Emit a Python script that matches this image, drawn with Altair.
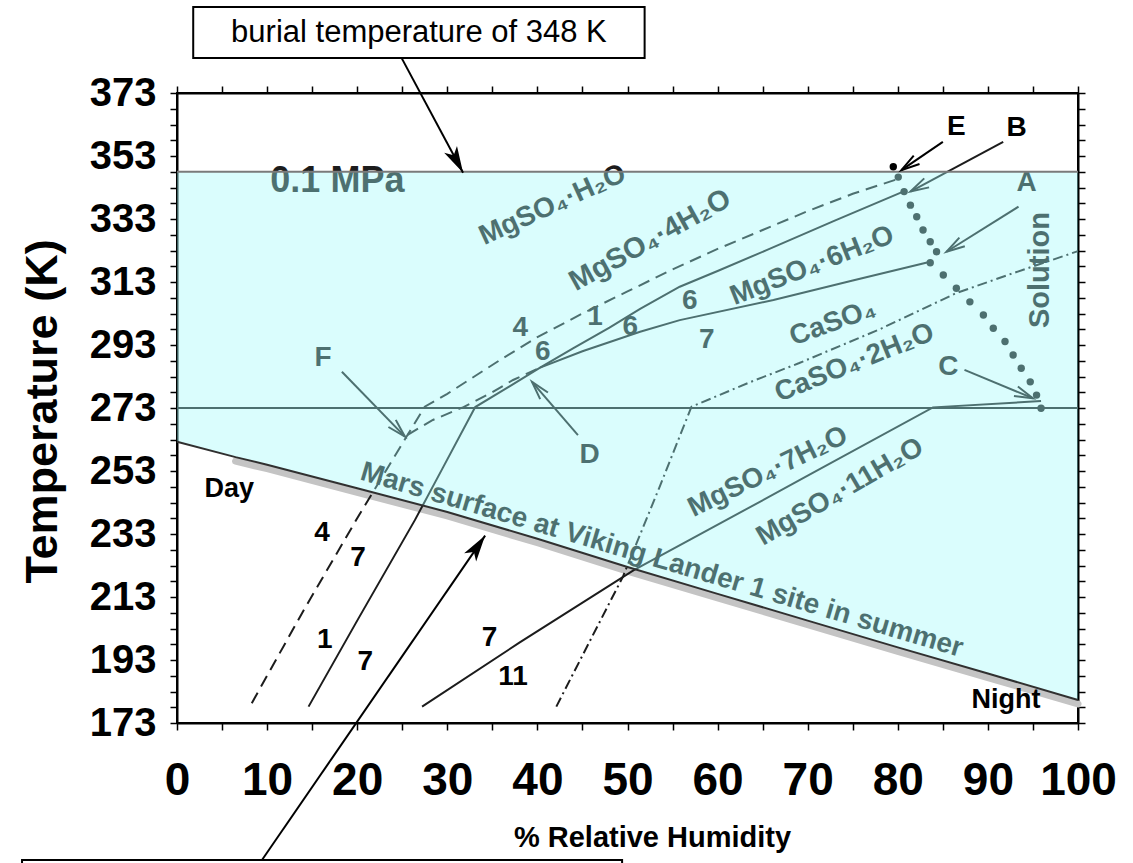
import math
import altair as alt
import pandas as pd

W, H = 901, 630
XD = [0, 100]
YD = [173, 373]
SX = W / (XD[1] - XD[0])
SY = H / (YD[1] - YD[0])

FONT = "Liberation Sans"
INK = "#1c1c1c"

# ---------------- data ----------------
# Mars surface at Viking Lander 1 site in summer
surf_rh = [0, 6.5, 10, 20, 30, 40, 50, 60, 70, 80, 90, 100]
surf_t = [262.3, 257.4, 255.0, 247.5, 240.0, 231.5, 222.5, 214.0, 205.5, 197.0, 188.7, 180.3]

# dashed boundary 4/7 then 4/1
d41_rh = [8.3, 14, 20, 25.6, 27.5, 30, 33, 36, 40, 45, 50, 55, 60, 65, 70, 75, 80]
d41_t = [179.3, 208.5, 238, 264.5, 273.4, 277.5, 283, 288.5, 295.5, 303, 310, 317, 323.5, 329.5, 335.5, 341, 345.7]
# dashed boundary 4/6 (F to D)
d46_rh = [25.6, 28.4, 31.8, 35, 37.3, 40.3]
d46_t = [264.5, 269.2, 273.3, 278, 281.9, 285.8]
# solid boundary 1/7 then 1/6
s16_rh = [14.6, 20, 26.4, 29.5, 33.1, 37, 40.3, 44, 48, 51.4, 55.8, 60, 65.5, 73, 80.6]
s16_t = [178.2, 205.5, 237.4, 254, 273.3, 280, 285.8, 292, 298.5, 304.5, 311.5, 316.5, 323.2, 332.5, 341.7]
# solid boundary 6/7
s67_rh = [40.3, 45, 51.4, 55.8, 66.2, 75, 83.6]
s67_t = [285.8, 291, 297.2, 300.9, 307.3, 313.5, 319.4]
# solid boundary 7/11
s711_rh = [27.2, 38, 50.7, 56.9, 70, 83.9, 95.9]
s711_t = [178.2, 198.5, 221.5, 231.1, 251.5, 273.2, 275.2]
# dash-dot boundary CaSO4 / CaSO4.2H2O
ca_rh = [42.1, 46, 49.5, 53.5, 57.1, 63.6, 69, 78, 86.5, 93, 100]
ca_t = [178.2, 200, 219.5, 247.5, 273.4, 281.2, 287.2, 298, 309.5, 316, 322.8]

# dotted solution boundary (E .. C)
dot_rh = [80.05, 80.7, 81.4, 82.1, 82.8, 83.6, 84.3, 83.6, 85.05, 86.5, 88.0, 89.5, 90.6, 91.9, 92.8, 93.7, 94.7, 95.4, 95.9]
dot_t = [346.3, 341.7, 337.4, 333.7, 329.5, 325.8, 322.6, 319.1, 315.2, 311.0, 306.7, 302.5, 298.3, 294.1, 289.8, 285.6, 281.3, 277.1, 272.9]
e_dot = ([79.5], [349.6])

# labels inside the cyan field (drawn under the tint)
in_lab = ["0.1 MPa", "MgSO\u2084\u00b7H\u2082O", "MgSO\u2084\u00b74H\u2082O", "MgSO\u2084\u00b76H\u2082O", "CaSO\u2084",
          "CaSO\u2084\u00b72H\u2082O", "MgSO\u2084\u00b77H\u2082O", "MgSO\u2084\u00b711H\u2082O", "Solution",
          "Mars surface at Viking Lander 1 site in summer"]
in_rh = [17.8, 41.7, 52.5, 70.5, 72.8, 75.2, 65.6, 73.6, 95.8, 53.8]
in_t = [345.1, 337.4, 326.3, 318.1, 300.0, 287.3, 252.7, 246.3, 316.8, 224.6]
in_ang = [0, 335.5, 331, 338.5, 340, 338, 334, 330, 270, 16.5]
in_size = [36, 28, 29, 28, 28, 28, 28, 28, 29, 28]

num_lab = ["4", "1", "6", "6", "6", "7", "A", "C", "F", "D"]
num_rh = [38.1, 46.4, 40.6, 50.3, 56.9, 58.8, 94.3, 85.6, 16.2, 45.8]
num_t = [298.4, 301.9, 290.8, 298.7, 307.0, 294.6, 344.3, 286.1, 288.8, 258.1]

out_lab = ["4", "7", "1", "7", "7", "11", "Day", "Night", "E", "B"]
out_rh = [16.1, 20.1, 16.4, 20.9, 34.7, 37.3, 5.8, 92.0, 86.5, 93.2]
out_t = [233.3, 225.4, 199.3, 192.4, 200.0, 187.6, 247.3, 180.3, 362.3, 361.8]

# arrows: start -> tip
arr_under = {  # tinted where inside the field
    "B": (91.7, 357.5, 81.4, 341.7),
    "A": (93.4, 336.9, 85.4, 322.6),
    "C": (87.4, 285.1, 95.0, 276.1),
    "F": (18.3, 284.5, 25.3, 263.9),
    "D": (44.5, 264.4, 39.4, 281.3),
}
arr_top_open = {"E": (85.0, 357.5, 80.4, 348.5)}
arr_top_filled = {
    "burial": (24.95, 384.0, 31.75, 347.7),
    "mars": (9.43, 129.5, 34.2, 232.5),
}

# annotation boxes (RH, T corners)
box_rh = [1.8, -17.2]
box_rh2 = [51.9, 49.4]
box_t = [400.3, 129.5]
box_t2 = [384.1, 110.0]
box_text = "burial temperature of 348 K"
box_text_pos = (26.85, 392.0)

# ---------------- helpers ----------------
xs = alt.Scale(domain=XD, nice=False, zero=False)
ys = alt.Scale(domain=YD, nice=False, zero=False)


def X(f="rh"):
    return alt.X(f"{f}:Q", scale=xs, axis=None)


def Y(f="t"):
    return alt.Y(f"{f}:Q", scale=ys, axis=None)


def line_df(rh, t):
    return pd.DataFrame({"rh": rh, "t": t, "i": range(len(rh))})


def line_layer(rh, t, dash=None, color=INK, width=2.0):
    kw = dict(color=color, strokeWidth=width, clip=False)
    if dash:
        kw["strokeDash"] = dash
    return alt.Chart(line_df(rh, t)).mark_line(**kw).encode(x=X(), y=Y(), order="i:Q")


def head_angle(x1, y1, x2, y2):
    dx = (x2 - x1) * SX
    dy = -(y2 - y1) * SY
    return math.degrees(math.atan2(dx, -dy)) % 360


def arrows(d, color, filled):
    rows = []
    for k, (x1, y1, x2, y2) in d.items():
        rows.append({"rh": x1, "t": y1, "rh2": x2, "t2": y2, "ang": head_angle(x1, y1, x2, y2)})
    df = pd.DataFrame(rows)
    shaft = alt.Chart(df).mark_rule(color=color, strokeWidth=2).encode(
        x=X(), y=Y(), x2="rh2:Q", y2="t2:Q")
    if filled:
        head = alt.Chart(df).mark_point(shape="M0,0L-0.55,2L0,1.5L0.55,2Z", filled=True, color=color,
                                        opacity=1, size=700).encode(
            x=X("rh2"), y=Y("t2"), angle=alt.Angle("ang:Q", scale=None))
    else:
        head = alt.Chart(df).mark_point(shape="M-0.5,1.8L0,0L0.5,1.8", filled=False, color=color,
                                        opacity=1, strokeWidth=2, size=420).encode(
            x=X("rh2"), y=Y("t2"), angle=alt.Angle("ang:Q", scale=None))
    return [shaft, head]


def text_layer(labels, rh, t, color, weight, size, ang=None, font=FONT):
    df = pd.DataFrame({"rh": rh, "t": t, "lab": labels,
                       "ang": ang if ang is not None else [0] * len(labels),
                       "sz": size if isinstance(size, list) else [size] * len(labels)})
    return alt.Chart(df).mark_text(font=font, fontWeight=weight, color=color, align="center",
                                   baseline="middle").encode(
        x=X(), y=Y(), text="lab:N", angle=alt.Angle("ang:Q", scale=None),
        size=alt.Size("sz:Q", scale=None))


surf = line_df(surf_rh, surf_t)

layers = []

# axes carriers
ax_common = dict(domainColor="black", domainWidth=2, tickColor="black", tickWidth=1.5, tickSize=7,
                 grid=False, labelOverlap=False)
x_bottom = alt.Axis(orient="bottom", values=list(range(0, 101, 5)),
                    labelExpr="datum.value % 10 == 0 ? datum.label : ''",
                    labelFont=FONT, labelFontSize=46, labelFontWeight="bold", labelColor="black",
                    labelPadding=28, labelFlush=False,
                    title="% Relative Humidity", titleFont=FONT, titleFontSize=29, titleFontWeight="bold",
                    titleColor="black", titleX=475, titleY=114, titleBaseline="middle", titleAlign="center",
                    **ax_common)
y_left = alt.Axis(orient="left", values=list(range(173, 374, 5)),
                  labelExpr="(datum.value - 173) % 20 == 0 ? datum.label : ''",
                  labelFont=FONT, labelFontSize=40, labelFontWeight="bold", labelColor="black",
                  labelPadding=14, labelFlush=False,
                  title="Temperature (K)", titleFont=FONT, titleFontSize=45, titleFontWeight="bold",
                  titleColor="black", titleX=-135, titleY=318, titleAngle=270, titleBaseline="middle",
                  titleAlign="center", **ax_common)
x_top = alt.Axis(orient="top", values=list(range(0, 101, 5)), labels=False, title=None, **ax_common)
y_right = alt.Axis(orient="right", values=list(range(173, 374, 5)), labels=False, title=None, **ax_common)

carrier = pd.DataFrame({"rh": [0], "t": [173]})
layers.append(alt.Chart(carrier).mark_point(opacity=0).encode(
    x=alt.X("rh:Q", scale=xs, axis=x_bottom), y=alt.Y("t:Q", scale=ys, axis=y_left)))
layers.append(alt.Chart(carrier).mark_point(opacity=0).encode(
    x=alt.X("rh:Q", scale=xs, axis=x_top), y=alt.Y("t:Q", scale=ys, axis=y_right)))

# annotation boxes
boxes = pd.DataFrame({"rh": box_rh, "rh2": box_rh2, "t": box_t, "t2": box_t2})
layers.append(alt.Chart(boxes).mark_rect(fill="white", stroke="black", strokeWidth=2, clip=False).encode(
    x=X(), x2="rh2:Q", y=Y(), y2="t2:Q"))
layers.append(text_layer([box_text], [box_text_pos[0]], [box_text_pos[1]], "black", "normal", 31))

# grey shadow under the Mars surface line
layers.append(alt.Chart(surf).transform_filter("datum.rh >= 6.5").mark_line(
    color="#c4c4c4", strokeWidth=7, yOffset=4, strokeCap="round").encode(x=X(), y=Y(), order="i:Q"))

# boundaries (drawn dark, tinted by the field)
layers.append(alt.Chart(pd.DataFrame({"t": [273]})).mark_rule(color=INK, strokeWidth=2).encode(y=Y()))
layers.append(line_layer(d41_rh, d41_t, dash=[12, 7]))
layers.append(line_layer(d46_rh, d46_t, dash=[12, 7]))
layers.append(line_layer(s16_rh, s16_t))
layers.append(line_layer(s67_rh, s67_t))
layers.append(line_layer(s711_rh, s711_t))
layers.append(line_layer(ca_rh, ca_t, dash=[10, 4, 2, 4]))
layers.append(alt.Chart(line_df(dot_rh, dot_t)).mark_circle(color=INK, opacity=1, size=55).encode(x=X(), y=Y()))
layers.append(text_layer(in_lab, in_rh, in_t, INK, "bold", in_size, in_ang))
layers.append(text_layer(num_lab, num_rh, num_t, INK, "bold", 28))
layers += arrows(arr_under, INK, False)

# tinted field between the Mars surface and 0.1 MPa
layers.append(alt.Chart(surf).transform_calculate(top="348").mark_area(
    fill="#9efafa", fillOpacity=0.38, stroke="transparent").encode(
    x=X(), y=Y(), y2="top:Q"))

# top elements
layers.append(alt.Chart(pd.DataFrame({"t": [348]})).mark_rule(color="#7a7a7a", strokeWidth=2).encode(y=Y()))
layers.append(alt.Chart(surf).mark_line(color="#303030", strokeWidth=2).encode(x=X(), y=Y(), order="i:Q"))
layers.append(alt.Chart(pd.DataFrame({"rh": e_dot[0], "t": e_dot[1]})).mark_circle(
    color="black", opacity=1, size=55).encode(x=X(), y=Y()))
layers += arrows(arr_top_open, "black", False)
layers += arrows(arr_top_filled, "black", True)
layers.append(text_layer(out_lab, out_rh, out_t, "black", "bold", [28, 28, 28, 28, 28, 28, 27, 27, 28, 28]))

chart = alt.layer(*layers).resolve_axis(x="independent", y="independent").properties(
    width=W, height=H,
    padding={"left": 177, "top": 93, "right": 55, "bottom": 140},
    autosize=alt.AutoSizeParams(type="none"),
    background="white",
).configure_view(stroke="black", strokeWidth=2)

chart.save("out.html", embed_options={"renderer": "svg", "actions": False})
